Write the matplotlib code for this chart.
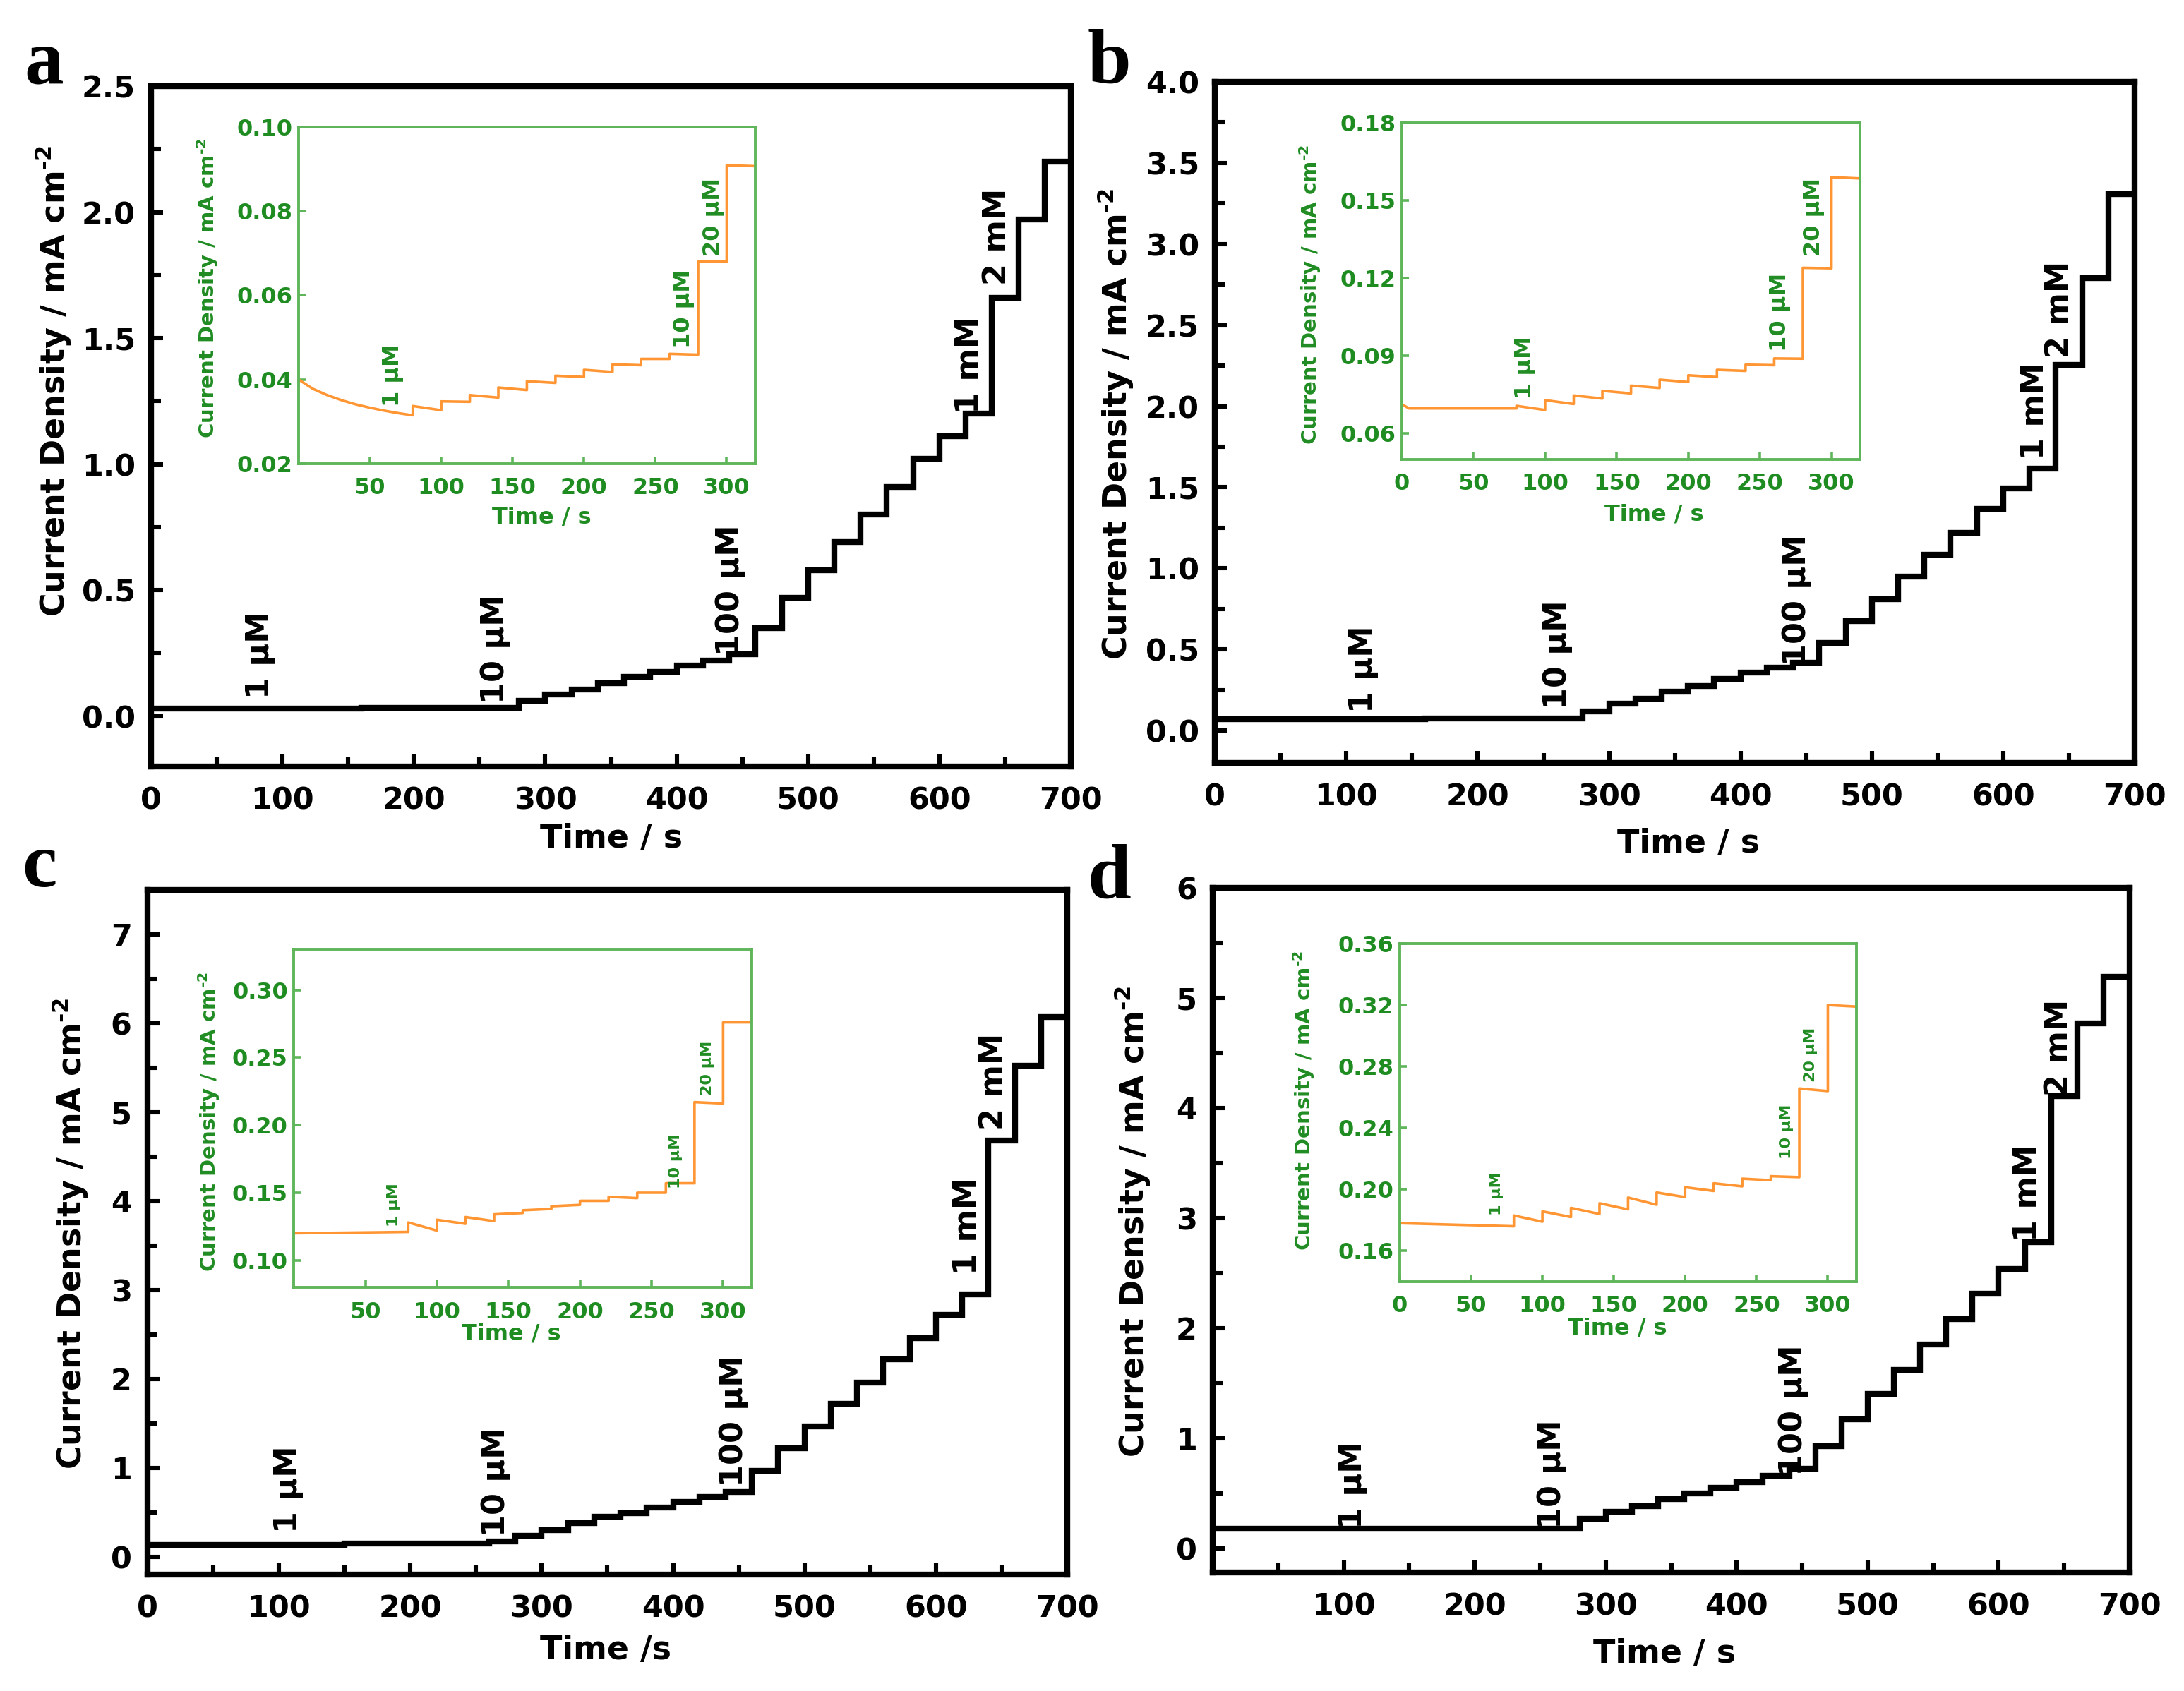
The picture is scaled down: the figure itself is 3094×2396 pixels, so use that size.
import matplotlib
matplotlib.use('Agg')
import matplotlib.pyplot as plt
from matplotlib.ticker import MultipleLocator, FixedLocator, FormatStrFormatter

# ---------------- data ----------------
# main panels: step start times (s) and current density (mA cm^-2)
tA = [0, 160, 280, 300, 320, 340, 360, 380, 400, 420, 440, 460, 480, 500, 520, 540,
      560, 580, 600, 620, 640, 660, 680, 700]
jA = [0.030, 0.034, 0.06, 0.085, 0.105, 0.13, 0.155, 0.175, 0.20, 0.22, 0.245,
      0.35, 0.47, 0.58, 0.69, 0.80, 0.91, 1.02, 1.11, 1.20, 1.66, 1.97, 2.20, 2.20]

tB = [0, 160, 280, 300, 320, 340, 360, 380, 400, 420, 440, 460, 480, 500, 520, 540,
      560, 580, 600, 620, 640, 660, 680, 700]
jB = [0.07, 0.075, 0.12, 0.164, 0.198, 0.24, 0.276, 0.317, 0.358, 0.386, 0.42,
      0.54, 0.676, 0.81, 0.949, 1.085, 1.22, 1.365, 1.495, 1.614, 2.253, 2.79, 3.31, 3.31]

tC = [0, 150, 260, 280, 300, 320, 340, 360, 380, 400, 420, 440, 460, 480, 500, 520,
      540, 560, 580, 600, 620, 640, 660, 680, 700]
jC = [0.13, 0.15, 0.17, 0.235, 0.30, 0.38, 0.45, 0.49, 0.55, 0.62, 0.67, 0.73,
      0.97, 1.22, 1.47, 1.72, 1.96, 2.22, 2.46, 2.72, 2.95, 4.68, 5.52, 6.07, 6.07]

tD = [0, 280, 300, 320, 340, 360, 380, 400, 420, 440, 460, 480, 500, 520, 540,
      560, 580, 600, 620, 640, 660, 680, 700]
jD = [0.18, 0.27, 0.33, 0.38, 0.45, 0.50, 0.55, 0.60, 0.66, 0.72, 0.93, 1.17,
      1.40, 1.62, 1.85, 2.08, 2.31, 2.54, 2.78, 4.11, 4.77, 5.19, 5.19]

# insets: trace vertices (time s, current density mA cm^-2)
itA = [0, 10, 20, 30, 40, 50, 60, 70, 80, 80, 100, 100, 120, 120, 140, 140, 160, 160,
       180, 180, 200, 200, 220, 220, 240, 240, 260, 260, 280, 280, 300, 300, 320]
ijA = [0.0400, 0.0378, 0.0363, 0.0351, 0.0341, 0.0333, 0.0326, 0.0320, 0.0315,
       0.0337, 0.0327, 0.0348, 0.0347, 0.0363, 0.0357, 0.0381, 0.0375, 0.0396,
       0.0392, 0.0409, 0.0406, 0.0423, 0.0418, 0.0436, 0.0434, 0.0449, 0.0449,
       0.0461, 0.0459, 0.0680, 0.0680, 0.0909, 0.0907]

itB = [0, 5, 80, 80, 100, 100, 120, 120, 140, 140, 160, 160, 180, 180, 200, 200, 220,
       220, 240, 240, 260, 260, 280, 280, 300, 300, 320, 320]
ijB = [0.0713, 0.0697, 0.0697, 0.0707, 0.0691, 0.0729, 0.0714, 0.0747, 0.0735,
       0.0765, 0.0755, 0.0785, 0.0776, 0.0808, 0.0799, 0.0825, 0.0818, 0.0846,
       0.0842, 0.0866, 0.0864, 0.0890, 0.0889, 0.1240, 0.1238, 0.1590, 0.1585, 0.185]

itC = [0, 80, 80, 100, 100, 120, 120, 140, 140, 160, 160, 180, 180, 200, 200, 220,
       220, 240, 240, 260, 260, 280, 280, 300, 300, 320, 320]
ijC = [0.120, 0.121, 0.128, 0.122, 0.130, 0.127, 0.132, 0.129, 0.134, 0.135, 0.137,
       0.138, 0.140, 0.141, 0.144, 0.144, 0.147, 0.146, 0.150, 0.150, 0.157, 0.157,
       0.217, 0.216, 0.276, 0.276, 0.34]

itD = [0, 80, 80, 100, 100, 120, 120, 140, 140, 160, 160, 180, 180, 200, 200, 220,
       220, 240, 240, 260, 260, 280, 280, 300, 300, 320]
ijD = [0.178, 0.176, 0.183, 0.179, 0.1857, 0.182, 0.188, 0.184, 0.191, 0.187, 0.1947,
       0.190, 0.198, 0.195, 0.2014, 0.199, 0.204, 0.202, 0.207, 0.206, 0.2086, 0.208,
       0.2657, 0.264, 0.320, 0.319]

main_labels = ['1 µM', '10 µM', '100 µM', '1 mM', '2 mM']
inset_labels = ['1 µM', '10 µM', '20 µM']
ylabel_text = r'Current Density / mA cm$^{\text{-2}}$'

# ---------------- style ----------------
plt.rcParams['font.family'] = ['DejaVu Sans']
plt.rcParams['font.weight'] = 'bold'
plt.rcParams['mathtext.fontset'] = 'dejavusans'
plt.rcParams['mathtext.default'] = 'bf'

GREEN_TXT = '#1f8c22'
GREEN_FRAME = '#5fb55a'
ORANGE = '#ff9633'

W, H = 3094, 2396
fig = plt.figure(figsize=(W / 200, H / 200), dpi=200)

panels = [
    dict(t=tA, j=jA, it=itA, ij=ijA, letter='a', letter_xy=(0.011, 0.951),
         rect=[0.0692, 0.5467, 0.4211, 0.4024], irect=[0.1367, 0.7258, 0.2091, 0.1991],
         ylim=(-0.2, 2.5), ymaj=0.5, ymin=0.25, yfmt='%.1f', xticks=list(range(0, 701, 100)),
         xlabel='Time / s', xlab=(0.50, -0.106), ylab=(-0.107, 0.567),
         ann=[(83, 0.07), (262, 0.05), (441, 0.24), (623, 1.20), (644, 1.71)], afs=16,
         iylim=(0.02, 0.10), iyticks=[0.02, 0.04, 0.06, 0.08, 0.10], iyfmt='%.2f',
         ixticks=[50, 100, 150, 200, 250, 300], ixlab=(0.533, -0.16), iylab=(-0.20, 0.52),
         iann=[(66, 0.0336), (270, 0.0475), (290.5, 0.0693)], iafs=11.5),
    dict(t=tB, j=jB, it=itB, ij=ijB, letter='b', letter_xy=(0.498, 0.951),
         rect=[0.5563, 0.5488, 0.4211, 0.4028], irect=[0.6419, 0.7283, 0.2098, 0.1991],
         ylim=(-0.2, 4.0), ymaj=0.5, ymin=0.25, yfmt='%.1f', xticks=list(range(0, 701, 100)),
         xlabel='Time / s', xlab=(0.515, -0.119), ylab=(-0.108, 0.498),
         ann=[(113, 0.11), (260.5, 0.13), (443, 0.40), (624, 1.67), (643, 2.30)], afs=16,
         iylim=(0.05, 0.18), iyticks=[0.06, 0.09, 0.12, 0.15, 0.18], iyfmt='%.2f',
         ixticks=[0, 50, 100, 150, 200, 250, 300], ixlab=(0.55, -0.164), iylab=(-0.20, 0.49),
         iann=[(86, 0.0734), (264, 0.0916), (287.5, 0.1286)], iafs=11.5),
    dict(t=tC, j=jC, it=itC, ij=ijC, letter='c', letter_xy=(0.010, 0.476),
         rect=[0.0675, 0.0689, 0.4212, 0.4048], irect=[0.1345, 0.2387, 0.2097, 0.1999],
         ylim=(-0.2, 7.5), ymaj=1, ymin=0.5, yfmt='%d', xticks=list(range(0, 701, 100)),
         xlabel='Time /s', xlab=(0.498, -0.111), ylab=(-0.084, 0.498),
         ann=[(107, 0.27), (265, 0.23), (446, 0.79), (624, 3.17), (644, 4.80)], afs=16,
         iylim=(0.08, 0.33), iyticks=[0.10, 0.15, 0.20, 0.25, 0.30], iyfmt='%.2f',
         ixticks=[50, 100, 150, 200, 250, 300], ixlab=(0.475, -0.138), iylab=(-0.185, 0.49),
         iann=[(70, 0.125), (267, 0.153), (289, 0.222)], iafs=8),
    dict(t=tD, j=jD, it=itD, ij=ijD, letter='d', letter_xy=(0.498, 0.469),
         rect=[0.5553, 0.0701, 0.4198, 0.4049], irect=[0.6409, 0.2421, 0.2091, 0.1999],
         ylim=(-0.22, 6), ymaj=1, ymin=0.5, yfmt='%d', xticks=list(range(100, 701, 100)),
         xlabel='Time / s', xlab=(0.493, -0.119), ylab=(-0.088, 0.512),
         ann=[(107, 0.18), (259, 0.18), (443, 0.66), (622, 2.79), (646, 4.11)], afs=16,
         iylim=(0.14, 0.36), iyticks=[0.16, 0.20, 0.24, 0.28, 0.32, 0.36], iyfmt='%.2f',
         ixticks=[0, 50, 100, 150, 200, 250, 300], ixlab=(0.476, -0.138), iylab=(-0.21, 0.535),
         iann=[(68, 0.183), (271, 0.220), (288, 0.270)], iafs=8),
]

for p in panels:
    ax = fig.add_axes(p['rect'])
    ax.step(p['t'], p['j'], where='post', color='black', lw=3.0, solid_joinstyle='miter')
    ax.set_xlim(0, 700)
    ax.set_ylim(*p['ylim'])
    ax.xaxis.set_major_locator(FixedLocator(p['xticks']))
    ax.xaxis.set_minor_locator(MultipleLocator(50))
    ax.yaxis.set_major_locator(MultipleLocator(p['ymaj']))
    ax.yaxis.set_minor_locator(MultipleLocator(p['ymin']))
    ax.yaxis.set_major_formatter(FormatStrFormatter(p['yfmt']))
    for s in ax.spines.values():
        s.set_linewidth(3.0)
    ax.tick_params(which='both', direction='in', top=False, right=False, width=2.2,
                   labelsize=15.5)
    ax.tick_params(axis='x', which='both', pad=10)
    ax.tick_params(axis='y', which='both', pad=8)
    ax.tick_params(which='major', length=6)
    ax.tick_params(which='minor', length=5)
    ax.set_xlabel(p['xlabel'], fontsize=16.5, fontweight='bold')
    ax.xaxis.set_label_coords(*p['xlab'])
    ax.xaxis.label.set_va('center')
    ax.set_ylabel(ylabel_text, fontsize=16.5, fontweight='bold')
    ax.yaxis.set_label_coords(*p['ylab'])
    ax.yaxis.label.set_va('center')
    for lab, (x, y) in zip(main_labels, p['ann']):
        ax.text(x, y, lab, rotation=90, ha='center', va='bottom', fontsize=p['afs'],
                fontweight='bold', color='black')
    fig.text(p['letter_xy'][0], p['letter_xy'][1], p['letter'], fontsize=40,
             fontweight='bold', family=['Liberation Serif', 'DejaVu Serif'],
             ha='left', va='baseline')

    ia = fig.add_axes(p['irect'])
    ia.plot(p['it'], p['ij'], color=ORANGE, lw=1.3)
    ia.set_xlim(0, 320)
    ia.set_ylim(*p['iylim'])
    ia.xaxis.set_major_locator(FixedLocator(p['ixticks']))
    ia.yaxis.set_major_locator(FixedLocator(p['iyticks']))
    ia.yaxis.set_major_formatter(FormatStrFormatter(p['iyfmt']))
    for s in ia.spines.values():
        s.set_linewidth(1.4)
        s.set_color(GREEN_FRAME)
    ia.tick_params(which='both', direction='in', top=False, right=False, width=1.3,
                   length=3.5, color=GREEN_FRAME, labelcolor=GREEN_TXT, labelsize=11.5)
    ia.tick_params(axis='x', pad=7)
    ia.tick_params(axis='y', pad=3)
    ia.set_xlabel('Time / s', fontsize=11.5, fontweight='bold', color=GREEN_TXT)
    ia.xaxis.set_label_coords(*p['ixlab'])
    ia.xaxis.label.set_va('center')
    ia.set_ylabel(ylabel_text, fontsize=10.5, fontweight='bold', color=GREEN_TXT)
    ia.yaxis.set_label_coords(*p['iylab'])
    ia.yaxis.label.set_va('center')
    for lab, (x, y) in zip(inset_labels, p['iann']):
        ia.text(x, y, lab, rotation=90, ha='center', va='bottom', fontsize=p['iafs'],
                fontweight='bold', color=GREEN_TXT)

fig.savefig('out.png', dpi=200)
